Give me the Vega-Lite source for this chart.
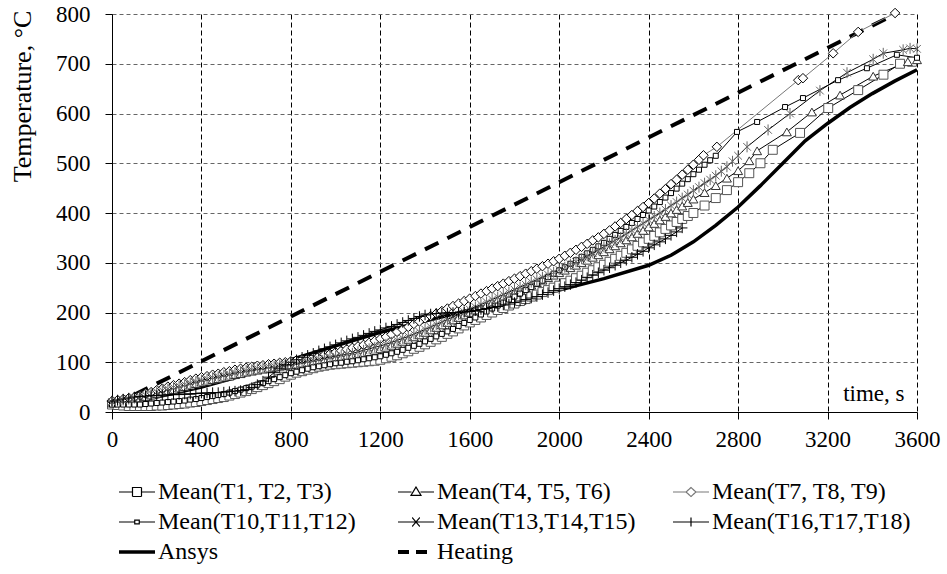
{
  "$schema": "https://vega.github.io/schema/vega-lite/v6.json",
  "autosize": "none",
  "width": 805,
  "height": 398,
  "padding": {"left": 112, "top": 14, "right": 30, "bottom": 162},
  "background": "white",
  "config": {
    "view": {"stroke": null},
    "font": "Liberation Serif, Times New Roman, serif",
    "axis": {"labelFont": "Liberation Serif, Times New Roman, serif", "labelFontSize": 23, "labelColor": "#000", "titleFont": "Liberation Serif, Times New Roman, serif", "titleFontSize": 23, "titleFontWeight": "normal", "titleColor": "#000", "domainColor": "#000", "tickColor": "#000", "tickSize": 7, "gridOpacity": 1, "gridWidth": 1},
    "legend": {"labelFont": "Liberation Serif, Times New Roman, serif", "labelFontSize": 24, "labelColor": "#000"}
  },
  "data": {"values": [
    {"s":"Heating","t":0,"v":12},{"s":"Heating","t":3490,"v":797},
    {"s":"Ansys","t":0,"v":18},{"s":"Ansys","t":200,"v":30},{"s":"Ansys","t":400,"v":50},{"s":"Ansys","t":600,"v":75},{"s":"Ansys","t":800,"v":105},{"s":"Ansys","t":1000,"v":133},{"s":"Ansys","t":1200,"v":160},{"s":"Ansys","t":1400,"v":183},{"s":"Ansys","t":1600,"v":205},{"s":"Ansys","t":1800,"v":225},{"s":"Ansys","t":2000,"v":245},{"s":"Ansys","t":2200,"v":268},{"s":"Ansys","t":2400,"v":295},{"s":"Ansys","t":2500,"v":315},{"s":"Ansys","t":2600,"v":342},{"s":"Ansys","t":2700,"v":375},{"s":"Ansys","t":2800,"v":412},{"s":"Ansys","t":2900,"v":455},{"s":"Ansys","t":3000,"v":500},{"s":"Ansys","t":3100,"v":545},{"s":"Ansys","t":3200,"v":580},{"s":"Ansys","t":3300,"v":612},{"s":"Ansys","t":3400,"v":640},{"s":"Ansys","t":3500,"v":665},{"s":"Ansys","t":3600,"v":688},
    {"s":"A","t":0,"v":15},{"s":"A","t":25,"v":14},{"s":"A","t":50,"v":13},{"s":"A","t":75,"v":12},{"s":"A","t":100,"v":12},{"s":"A","t":125,"v":12},{"s":"A","t":150,"v":12},{"s":"A","t":175,"v":12},{"s":"A","t":200,"v":13},{"s":"A","t":225,"v":13},{"s":"A","t":250,"v":14},{"s":"A","t":275,"v":15},{"s":"A","t":300,"v":16},{"s":"A","t":325,"v":17},{"s":"A","t":350,"v":19},{"s":"A","t":375,"v":20},{"s":"A","t":400,"v":22},{"s":"A","t":425,"v":24},{"s":"A","t":450,"v":26},{"s":"A","t":475,"v":28},{"s":"A","t":500,"v":30},{"s":"A","t":525,"v":33},{"s":"A","t":550,"v":36},{"s":"A","t":575,"v":39},{"s":"A","t":600,"v":42},{"s":"A","t":625,"v":46},{"s":"A","t":650,"v":50},{"s":"A","t":675,"v":54},{"s":"A","t":700,"v":58},{"s":"A","t":725,"v":62},{"s":"A","t":750,"v":66},{"s":"A","t":775,"v":71},{"s":"A","t":800,"v":75},{"s":"A","t":825,"v":79},{"s":"A","t":850,"v":82},{"s":"A","t":875,"v":85},{"s":"A","t":900,"v":88},{"s":"A","t":925,"v":91},{"s":"A","t":950,"v":93},{"s":"A","t":975,"v":95},{"s":"A","t":1000,"v":96},{"s":"A","t":1025,"v":97},{"s":"A","t":1050,"v":98},{"s":"A","t":1075,"v":99},{"s":"A","t":1100,"v":100},{"s":"A","t":1125,"v":101},{"s":"A","t":1150,"v":102},{"s":"A","t":1175,"v":103},{"s":"A","t":1200,"v":105},{"s":"A","t":1225,"v":108},{"s":"A","t":1250,"v":111},{"s":"A","t":1275,"v":114},{"s":"A","t":1300,"v":118},{"s":"A","t":1325,"v":122},{"s":"A","t":1350,"v":127},{"s":"A","t":1375,"v":131},{"s":"A","t":1400,"v":136},{"s":"A","t":1425,"v":141},{"s":"A","t":1450,"v":146},{"s":"A","t":1475,"v":151},{"s":"A","t":1500,"v":157},{"s":"A","t":1525,"v":162},{"s":"A","t":1550,"v":168},{"s":"A","t":1575,"v":174},{"s":"A","t":1600,"v":180},{"s":"A","t":1625,"v":185},{"s":"A","t":1650,"v":190},{"s":"A","t":1675,"v":195},{"s":"A","t":1700,"v":200},{"s":"A","t":1725,"v":205},{"s":"A","t":1750,"v":209},{"s":"A","t":1775,"v":214},{"s":"A","t":1800,"v":218},{"s":"A","t":1825,"v":223},{"s":"A","t":1850,"v":227},{"s":"A","t":1875,"v":232},{"s":"A","t":1900,"v":236},{"s":"A","t":1925,"v":241},{"s":"A","t":1950,"v":245},{"s":"A","t":1975,"v":250},{"s":"A","t":2000,"v":254},{"s":"A","t":2025,"v":259},{"s":"A","t":2050,"v":264},{"s":"A","t":2075,"v":269},{"s":"A","t":2100,"v":274},{"s":"A","t":2125,"v":280},{"s":"A","t":2150,"v":285},{"s":"A","t":2175,"v":291},{"s":"A","t":2200,"v":296},{"s":"A","t":2225,"v":302},{"s":"A","t":2250,"v":308},{"s":"A","t":2275,"v":314},{"s":"A","t":2300,"v":320},{"s":"A","t":2325,"v":327},{"s":"A","t":2350,"v":334},{"s":"A","t":2375,"v":341},{"s":"A","t":2400,"v":348},{"s":"A","t":2425,"v":354},{"s":"A","t":2450,"v":361},{"s":"A","t":2475,"v":368},{"s":"A","t":2500,"v":375},{"s":"A","t":2525,"v":382},{"s":"A","t":2550,"v":388},{"s":"A","t":2575,"v":394},{"s":"A","t":2600,"v":400},{"s":"A","t":2650,"v":415},{"s":"A","t":2700,"v":430},{"s":"A","t":2750,"v":446},{"s":"A","t":2800,"v":462},{"s":"A","t":2850,"v":480},{"s":"A","t":2900,"v":500},{"s":"A","t":2955,"v":527},{"s":"A","t":3077,"v":561},{"s":"A","t":3203,"v":611},{"s":"A","t":3337,"v":647},{"s":"A","t":3450,"v":678},{"s":"A","t":3524,"v":700},{"s":"A","t":3578,"v":704},
    {"s":"B","t":0,"v":18},{"s":"B","t":25,"v":19},{"s":"B","t":50,"v":21},{"s":"B","t":75,"v":23},{"s":"B","t":100,"v":25},{"s":"B","t":125,"v":28},{"s":"B","t":150,"v":31},{"s":"B","t":175,"v":34},{"s":"B","t":200,"v":37},{"s":"B","t":225,"v":40},{"s":"B","t":250,"v":43},{"s":"B","t":275,"v":45},{"s":"B","t":300,"v":48},{"s":"B","t":325,"v":51},{"s":"B","t":350,"v":54},{"s":"B","t":375,"v":57},{"s":"B","t":400,"v":60},{"s":"B","t":425,"v":62},{"s":"B","t":450,"v":65},{"s":"B","t":475,"v":67},{"s":"B","t":500,"v":70},{"s":"B","t":525,"v":72},{"s":"B","t":550,"v":75},{"s":"B","t":575,"v":77},{"s":"B","t":600,"v":80},{"s":"B","t":625,"v":82},{"s":"B","t":650,"v":84},{"s":"B","t":675,"v":86},{"s":"B","t":700,"v":88},{"s":"B","t":725,"v":90},{"s":"B","t":750,"v":92},{"s":"B","t":775,"v":93},{"s":"B","t":800,"v":95},{"s":"B","t":825,"v":96},{"s":"B","t":850,"v":98},{"s":"B","t":875,"v":99},{"s":"B","t":900,"v":101},{"s":"B","t":925,"v":102},{"s":"B","t":950,"v":104},{"s":"B","t":975,"v":106},{"s":"B","t":1000,"v":108},{"s":"B","t":1025,"v":110},{"s":"B","t":1050,"v":112},{"s":"B","t":1075,"v":114},{"s":"B","t":1100,"v":116},{"s":"B","t":1125,"v":118},{"s":"B","t":1150,"v":121},{"s":"B","t":1175,"v":124},{"s":"B","t":1200,"v":127},{"s":"B","t":1225,"v":130},{"s":"B","t":1250,"v":134},{"s":"B","t":1275,"v":138},{"s":"B","t":1300,"v":142},{"s":"B","t":1325,"v":146},{"s":"B","t":1350,"v":151},{"s":"B","t":1375,"v":155},{"s":"B","t":1400,"v":160},{"s":"B","t":1425,"v":165},{"s":"B","t":1450,"v":170},{"s":"B","t":1475,"v":175},{"s":"B","t":1500,"v":180},{"s":"B","t":1525,"v":185},{"s":"B","t":1550,"v":190},{"s":"B","t":1575,"v":195},{"s":"B","t":1600,"v":200},{"s":"B","t":1625,"v":205},{"s":"B","t":1650,"v":210},{"s":"B","t":1675,"v":215},{"s":"B","t":1700,"v":220},{"s":"B","t":1725,"v":225},{"s":"B","t":1750,"v":230},{"s":"B","t":1775,"v":235},{"s":"B","t":1800,"v":240},{"s":"B","t":1825,"v":245},{"s":"B","t":1850,"v":250},{"s":"B","t":1875,"v":255},{"s":"B","t":1900,"v":260},{"s":"B","t":1925,"v":265},{"s":"B","t":1950,"v":270},{"s":"B","t":1975,"v":275},{"s":"B","t":2000,"v":280},{"s":"B","t":2025,"v":285},{"s":"B","t":2050,"v":290},{"s":"B","t":2075,"v":295},{"s":"B","t":2100,"v":300},{"s":"B","t":2125,"v":305},{"s":"B","t":2150,"v":311},{"s":"B","t":2175,"v":316},{"s":"B","t":2200,"v":322},{"s":"B","t":2225,"v":328},{"s":"B","t":2250,"v":334},{"s":"B","t":2275,"v":340},{"s":"B","t":2300,"v":346},{"s":"B","t":2325,"v":352},{"s":"B","t":2350,"v":359},{"s":"B","t":2375,"v":365},{"s":"B","t":2400,"v":372},{"s":"B","t":2425,"v":379},{"s":"B","t":2450,"v":386},{"s":"B","t":2475,"v":393},{"s":"B","t":2500,"v":400},{"s":"B","t":2525,"v":407},{"s":"B","t":2550,"v":414},{"s":"B","t":2575,"v":421},{"s":"B","t":2600,"v":428},{"s":"B","t":2650,"v":441},{"s":"B","t":2700,"v":455},{"s":"B","t":2750,"v":470},{"s":"B","t":2800,"v":485},{"s":"B","t":2850,"v":505},{"s":"B","t":2885,"v":525},{"s":"B","t":3018,"v":563},{"s":"B","t":3130,"v":603},{"s":"B","t":3256,"v":637},{"s":"B","t":3404,"v":675},{"s":"B","t":3559,"v":704},{"s":"B","t":3600,"v":708},
    {"s":"C","t":0,"v":22},{"s":"C","t":25,"v":24},{"s":"C","t":50,"v":26},{"s":"C","t":75,"v":28},{"s":"C","t":100,"v":30},{"s":"C","t":125,"v":33},{"s":"C","t":150,"v":37},{"s":"C","t":175,"v":40},{"s":"C","t":200,"v":44},{"s":"C","t":225,"v":47},{"s":"C","t":250,"v":51},{"s":"C","t":275,"v":54},{"s":"C","t":300,"v":57},{"s":"C","t":325,"v":60},{"s":"C","t":350,"v":64},{"s":"C","t":375,"v":67},{"s":"C","t":400,"v":70},{"s":"C","t":425,"v":72},{"s":"C","t":450,"v":75},{"s":"C","t":475,"v":77},{"s":"C","t":500,"v":80},{"s":"C","t":525,"v":82},{"s":"C","t":550,"v":85},{"s":"C","t":575,"v":87},{"s":"C","t":600,"v":89},{"s":"C","t":625,"v":91},{"s":"C","t":650,"v":93},{"s":"C","t":675,"v":94},{"s":"C","t":700,"v":96},{"s":"C","t":725,"v":97},{"s":"C","t":750,"v":99},{"s":"C","t":775,"v":100},{"s":"C","t":800,"v":102},{"s":"C","t":825,"v":104},{"s":"C","t":850,"v":106},{"s":"C","t":875,"v":108},{"s":"C","t":900,"v":110},{"s":"C","t":925,"v":112},{"s":"C","t":950,"v":115},{"s":"C","t":975,"v":117},{"s":"C","t":1000,"v":120},{"s":"C","t":1025,"v":123},{"s":"C","t":1050,"v":126},{"s":"C","t":1075,"v":129},{"s":"C","t":1100,"v":132},{"s":"C","t":1125,"v":135},{"s":"C","t":1150,"v":139},{"s":"C","t":1175,"v":143},{"s":"C","t":1200,"v":147},{"s":"C","t":1225,"v":151},{"s":"C","t":1250,"v":156},{"s":"C","t":1275,"v":161},{"s":"C","t":1300,"v":166},{"s":"C","t":1325,"v":171},{"s":"C","t":1350,"v":177},{"s":"C","t":1375,"v":182},{"s":"C","t":1400,"v":188},{"s":"C","t":1425,"v":193},{"s":"C","t":1450,"v":198},{"s":"C","t":1475,"v":203},{"s":"C","t":1500,"v":208},{"s":"C","t":1525,"v":213},{"s":"C","t":1550,"v":218},{"s":"C","t":1575,"v":223},{"s":"C","t":1600,"v":228},{"s":"C","t":1625,"v":233},{"s":"C","t":1650,"v":238},{"s":"C","t":1675,"v":243},{"s":"C","t":1700,"v":248},{"s":"C","t":1725,"v":253},{"s":"C","t":1750,"v":258},{"s":"C","t":1775,"v":263},{"s":"C","t":1800,"v":268},{"s":"C","t":1825,"v":273},{"s":"C","t":1850,"v":278},{"s":"C","t":1875,"v":283},{"s":"C","t":1900,"v":288},{"s":"C","t":1925,"v":293},{"s":"C","t":1950,"v":298},{"s":"C","t":1975,"v":303},{"s":"C","t":2000,"v":308},{"s":"C","t":2025,"v":314},{"s":"C","t":2050,"v":320},{"s":"C","t":2075,"v":326},{"s":"C","t":2100,"v":332},{"s":"C","t":2125,"v":338},{"s":"C","t":2150,"v":345},{"s":"C","t":2175,"v":351},{"s":"C","t":2200,"v":358},{"s":"C","t":2225,"v":365},{"s":"C","t":2250,"v":373},{"s":"C","t":2275,"v":380},{"s":"C","t":2300,"v":388},{"s":"C","t":2325,"v":396},{"s":"C","t":2350,"v":404},{"s":"C","t":2375,"v":412},{"s":"C","t":2400,"v":420},{"s":"C","t":2425,"v":429},{"s":"C","t":2450,"v":439},{"s":"C","t":2475,"v":448},{"s":"C","t":2500,"v":458},{"s":"C","t":2525,"v":467},{"s":"C","t":2550,"v":477},{"s":"C","t":2575,"v":487},{"s":"C","t":2600,"v":497},{"s":"C","t":2625,"v":507},{"s":"C","t":2645,"v":516},{"s":"C","t":2705,"v":533},{"s":"C","t":3069,"v":667},{"s":"C","t":3090,"v":671},{"s":"C","t":3225,"v":721},{"s":"C","t":3337,"v":764},{"s":"C","t":3502,"v":802},
    {"s":"D","t":0,"v":15},{"s":"D","t":25,"v":15},{"s":"D","t":50,"v":15},{"s":"D","t":75,"v":15},{"s":"D","t":100,"v":15},{"s":"D","t":125,"v":15},{"s":"D","t":150,"v":16},{"s":"D","t":175,"v":17},{"s":"D","t":200,"v":18},{"s":"D","t":225,"v":19},{"s":"D","t":250,"v":20},{"s":"D","t":275,"v":21},{"s":"D","t":300,"v":22},{"s":"D","t":325,"v":23},{"s":"D","t":350,"v":25},{"s":"D","t":375,"v":26},{"s":"D","t":400,"v":28},{"s":"D","t":425,"v":30},{"s":"D","t":450,"v":32},{"s":"D","t":475,"v":34},{"s":"D","t":500,"v":36},{"s":"D","t":525,"v":39},{"s":"D","t":550,"v":42},{"s":"D","t":575,"v":45},{"s":"D","t":600,"v":48},{"s":"D","t":625,"v":51},{"s":"D","t":650,"v":55},{"s":"D","t":675,"v":58},{"s":"D","t":700,"v":62},{"s":"D","t":725,"v":66},{"s":"D","t":750,"v":70},{"s":"D","t":775,"v":74},{"s":"D","t":800,"v":78},{"s":"D","t":825,"v":81},{"s":"D","t":850,"v":84},{"s":"D","t":875,"v":87},{"s":"D","t":900,"v":90},{"s":"D","t":925,"v":92},{"s":"D","t":950,"v":94},{"s":"D","t":975,"v":96},{"s":"D","t":1000,"v":98},{"s":"D","t":1025,"v":99},{"s":"D","t":1050,"v":101},{"s":"D","t":1075,"v":102},{"s":"D","t":1100,"v":104},{"s":"D","t":1125,"v":106},{"s":"D","t":1150,"v":108},{"s":"D","t":1175,"v":110},{"s":"D","t":1200,"v":112},{"s":"D","t":1225,"v":115},{"s":"D","t":1250,"v":118},{"s":"D","t":1275,"v":121},{"s":"D","t":1300,"v":125},{"s":"D","t":1325,"v":129},{"s":"D","t":1350,"v":133},{"s":"D","t":1375,"v":137},{"s":"D","t":1400,"v":142},{"s":"D","t":1425,"v":147},{"s":"D","t":1450,"v":152},{"s":"D","t":1475,"v":157},{"s":"D","t":1500,"v":162},{"s":"D","t":1525,"v":167},{"s":"D","t":1550,"v":173},{"s":"D","t":1575,"v":179},{"s":"D","t":1600,"v":185},{"s":"D","t":1625,"v":190},{"s":"D","t":1650,"v":196},{"s":"D","t":1675,"v":202},{"s":"D","t":1700,"v":208},{"s":"D","t":1725,"v":214},{"s":"D","t":1750,"v":220},{"s":"D","t":1775,"v":226},{"s":"D","t":1800,"v":232},{"s":"D","t":1825,"v":238},{"s":"D","t":1850,"v":245},{"s":"D","t":1875,"v":251},{"s":"D","t":1900,"v":258},{"s":"D","t":1925,"v":264},{"s":"D","t":1950,"v":271},{"s":"D","t":1975,"v":278},{"s":"D","t":2000,"v":285},{"s":"D","t":2025,"v":291},{"s":"D","t":2050,"v":298},{"s":"D","t":2075,"v":305},{"s":"D","t":2100,"v":312},{"s":"D","t":2125,"v":319},{"s":"D","t":2150,"v":326},{"s":"D","t":2175,"v":333},{"s":"D","t":2200,"v":340},{"s":"D","t":2225,"v":348},{"s":"D","t":2250,"v":356},{"s":"D","t":2275,"v":364},{"s":"D","t":2300,"v":372},{"s":"D","t":2325,"v":380},{"s":"D","t":2350,"v":388},{"s":"D","t":2375,"v":396},{"s":"D","t":2400,"v":405},{"s":"D","t":2425,"v":413},{"s":"D","t":2450,"v":422},{"s":"D","t":2475,"v":431},{"s":"D","t":2500,"v":440},{"s":"D","t":2525,"v":449},{"s":"D","t":2550,"v":459},{"s":"D","t":2575,"v":468},{"s":"D","t":2600,"v":478},{"s":"D","t":2625,"v":487},{"s":"D","t":2650,"v":497},{"s":"D","t":2675,"v":506},{"s":"D","t":2700,"v":515},{"s":"D","t":2795,"v":563},{"s":"D","t":2885,"v":583},{"s":"D","t":3010,"v":613},{"s":"D","t":3090,"v":631},{"s":"D","t":3247,"v":667},{"s":"D","t":3376,"v":691},{"s":"D","t":3510,"v":718},{"s":"D","t":3600,"v":712},
    {"s":"E","t":0,"v":20},{"s":"E","t":25,"v":22},{"s":"E","t":50,"v":24},{"s":"E","t":75,"v":26},{"s":"E","t":100,"v":28},{"s":"E","t":125,"v":31},{"s":"E","t":150,"v":34},{"s":"E","t":175,"v":37},{"s":"E","t":200,"v":40},{"s":"E","t":225,"v":43},{"s":"E","t":250,"v":46},{"s":"E","t":275,"v":49},{"s":"E","t":300,"v":52},{"s":"E","t":325,"v":55},{"s":"E","t":350,"v":58},{"s":"E","t":375,"v":61},{"s":"E","t":400,"v":64},{"s":"E","t":425,"v":66},{"s":"E","t":450,"v":69},{"s":"E","t":475,"v":71},{"s":"E","t":500,"v":74},{"s":"E","t":525,"v":76},{"s":"E","t":550,"v":79},{"s":"E","t":575,"v":81},{"s":"E","t":600,"v":83},{"s":"E","t":625,"v":85},{"s":"E","t":650,"v":87},{"s":"E","t":675,"v":89},{"s":"E","t":700,"v":91},{"s":"E","t":725,"v":92},{"s":"E","t":750,"v":94},{"s":"E","t":775,"v":95},{"s":"E","t":800,"v":97},{"s":"E","t":825,"v":98},{"s":"E","t":850,"v":100},{"s":"E","t":875,"v":102},{"s":"E","t":900,"v":104},{"s":"E","t":925,"v":106},{"s":"E","t":950,"v":108},{"s":"E","t":975,"v":110},{"s":"E","t":1000,"v":112},{"s":"E","t":1025,"v":114},{"s":"E","t":1050,"v":116},{"s":"E","t":1075,"v":118},{"s":"E","t":1100,"v":121},{"s":"E","t":1125,"v":124},{"s":"E","t":1150,"v":127},{"s":"E","t":1175,"v":130},{"s":"E","t":1200,"v":133},{"s":"E","t":1225,"v":136},{"s":"E","t":1250,"v":140},{"s":"E","t":1275,"v":144},{"s":"E","t":1300,"v":148},{"s":"E","t":1325,"v":152},{"s":"E","t":1350,"v":157},{"s":"E","t":1375,"v":161},{"s":"E","t":1400,"v":166},{"s":"E","t":1425,"v":171},{"s":"E","t":1450,"v":176},{"s":"E","t":1475,"v":181},{"s":"E","t":1500,"v":186},{"s":"E","t":1525,"v":191},{"s":"E","t":1550,"v":196},{"s":"E","t":1575,"v":201},{"s":"E","t":1600,"v":206},{"s":"E","t":1625,"v":211},{"s":"E","t":1650,"v":216},{"s":"E","t":1675,"v":221},{"s":"E","t":1700,"v":226},{"s":"E","t":1725,"v":231},{"s":"E","t":1750,"v":236},{"s":"E","t":1775,"v":241},{"s":"E","t":1800,"v":246},{"s":"E","t":1825,"v":251},{"s":"E","t":1850,"v":256},{"s":"E","t":1875,"v":261},{"s":"E","t":1900,"v":266},{"s":"E","t":1925,"v":271},{"s":"E","t":1950,"v":276},{"s":"E","t":1975,"v":281},{"s":"E","t":2000,"v":286},{"s":"E","t":2025,"v":291},{"s":"E","t":2050,"v":297},{"s":"E","t":2075,"v":302},{"s":"E","t":2100,"v":308},{"s":"E","t":2125,"v":314},{"s":"E","t":2150,"v":320},{"s":"E","t":2175,"v":326},{"s":"E","t":2200,"v":332},{"s":"E","t":2225,"v":338},{"s":"E","t":2250,"v":345},{"s":"E","t":2275,"v":351},{"s":"E","t":2300,"v":358},{"s":"E","t":2325,"v":365},{"s":"E","t":2350,"v":372},{"s":"E","t":2375,"v":379},{"s":"E","t":2400,"v":386},{"s":"E","t":2425,"v":393},{"s":"E","t":2450,"v":400},{"s":"E","t":2475,"v":407},{"s":"E","t":2500,"v":415},{"s":"E","t":2525,"v":422},{"s":"E","t":2550,"v":430},{"s":"E","t":2575,"v":437},{"s":"E","t":2600,"v":445},{"s":"E","t":2625,"v":452},{"s":"E","t":2650,"v":460},{"s":"E","t":2675,"v":467},{"s":"E","t":2700,"v":475},{"s":"E","t":2725,"v":484},{"s":"E","t":2750,"v":493},{"s":"E","t":2775,"v":504},{"s":"E","t":2800,"v":515},{"s":"E","t":2840,"v":533},{"s":"E","t":2934,"v":567},{"s":"E","t":3032,"v":600},{"s":"E","t":3166,"v":646},{"s":"E","t":3287,"v":682},{"s":"E","t":3404,"v":709},{"s":"E","t":3449,"v":721},{"s":"E","t":3538,"v":728},{"s":"E","t":3569,"v":731},{"s":"E","t":3600,"v":730},
    {"s":"F","t":0,"v":22},{"s":"F","t":25,"v":24},{"s":"F","t":50,"v":26},{"s":"F","t":75,"v":28},{"s":"F","t":100,"v":30},{"s":"F","t":125,"v":31},{"s":"F","t":150,"v":32},{"s":"F","t":175,"v":33},{"s":"F","t":200,"v":33},{"s":"F","t":225,"v":34},{"s":"F","t":250,"v":34},{"s":"F","t":275,"v":35},{"s":"F","t":300,"v":35},{"s":"F","t":325,"v":36},{"s":"F","t":350,"v":36},{"s":"F","t":375,"v":37},{"s":"F","t":400,"v":38},{"s":"F","t":425,"v":38},{"s":"F","t":450,"v":39},{"s":"F","t":475,"v":39},{"s":"F","t":500,"v":40},{"s":"F","t":525,"v":41},{"s":"F","t":550,"v":42},{"s":"F","t":575,"v":43},{"s":"F","t":600,"v":45},{"s":"F","t":625,"v":49},{"s":"F","t":650,"v":55},{"s":"F","t":675,"v":62},{"s":"F","t":700,"v":70},{"s":"F","t":725,"v":79},{"s":"F","t":750,"v":88},{"s":"F","t":775,"v":95},{"s":"F","t":800,"v":100},{"s":"F","t":825,"v":105},{"s":"F","t":850,"v":110},{"s":"F","t":875,"v":114},{"s":"F","t":900,"v":118},{"s":"F","t":925,"v":123},{"s":"F","t":950,"v":127},{"s":"F","t":975,"v":131},{"s":"F","t":1000,"v":135},{"s":"F","t":1025,"v":139},{"s":"F","t":1050,"v":143},{"s":"F","t":1075,"v":147},{"s":"F","t":1100,"v":150},{"s":"F","t":1125,"v":154},{"s":"F","t":1150,"v":158},{"s":"F","t":1175,"v":162},{"s":"F","t":1200,"v":165},{"s":"F","t":1225,"v":169},{"s":"F","t":1250,"v":172},{"s":"F","t":1275,"v":176},{"s":"F","t":1300,"v":180},{"s":"F","t":1325,"v":184},{"s":"F","t":1350,"v":188},{"s":"F","t":1375,"v":192},{"s":"F","t":1400,"v":195},{"s":"F","t":1425,"v":197},{"s":"F","t":1450,"v":198},{"s":"F","t":1475,"v":199},{"s":"F","t":1500,"v":199},{"s":"F","t":1525,"v":200},{"s":"F","t":1550,"v":200},{"s":"F","t":1575,"v":201},{"s":"F","t":1600,"v":202},{"s":"F","t":1625,"v":204},{"s":"F","t":1650,"v":206},{"s":"F","t":1675,"v":208},{"s":"F","t":1700,"v":210},{"s":"F","t":1725,"v":212},{"s":"F","t":1750,"v":215},{"s":"F","t":1775,"v":217},{"s":"F","t":1800,"v":220},{"s":"F","t":1825,"v":223},{"s":"F","t":1850,"v":226},{"s":"F","t":1875,"v":229},{"s":"F","t":1900,"v":232},{"s":"F","t":1925,"v":236},{"s":"F","t":1950,"v":240},{"s":"F","t":1975,"v":244},{"s":"F","t":2000,"v":248},{"s":"F","t":2025,"v":252},{"s":"F","t":2050,"v":256},{"s":"F","t":2075,"v":260},{"s":"F","t":2100,"v":265},{"s":"F","t":2125,"v":270},{"s":"F","t":2150,"v":275},{"s":"F","t":2175,"v":280},{"s":"F","t":2200,"v":285},{"s":"F","t":2225,"v":290},{"s":"F","t":2250,"v":295},{"s":"F","t":2275,"v":300},{"s":"F","t":2300,"v":305},{"s":"F","t":2325,"v":311},{"s":"F","t":2350,"v":317},{"s":"F","t":2375,"v":323},{"s":"F","t":2400,"v":330},{"s":"F","t":2425,"v":336},{"s":"F","t":2450,"v":342},{"s":"F","t":2475,"v":348},{"s":"F","t":2500,"v":355},{"s":"F","t":2525,"v":362},{"s":"F","t":2550,"v":370}
  ]},
  "encoding": {
    "x": {"field": "t", "type": "quantitative", "scale": {"domain": [0, 3600], "nice": false},
      "axis": {"values": [0,400,800,1200,1600,2000,2400,2800,3200,3600], "format": "d", "title": "time, s", "titleX": 792, "titleY": -12, "titleAlign": "right", "titleBaseline": "alphabetic", "titleAngle": 0, "labelPadding": 9, "labelFlush": false, "labelOverlap": false, "gridColor": "#000", "gridDash": [5, 3]}},
    "y": {"field": "v", "type": "quantitative", "scale": {"domain": [0, 800], "nice": false},
      "axis": {"values": [0,100,200,300,400,500,600,700,800], "format": "d", "title": "Temperature, °C", "titleFontSize": 26, "titleX": -90, "titleY": 82, "titleAngle": -90, "titleAlign": "center", "titleBaseline": "middle", "labelPadding": 15, "gridColor": "#666", "gridDash": [4, 3]}}
  },
  "layer": [
    {
      "transform": [{"filter": "datum.s === 'Heating'"}],
      "mark": {"type": "line", "strokeWidth": 4, "strokeDash": [15, 10]},
      "encoding": {"color": {"field": "s", "type": "nominal",
        "scale": {"domain": ["A","B","C","D","E","F","Ansys","Heating"], "range": ["#000","#000","#777","#000","#000","#000","#000","#000"]},
        "legend": {"orient": "none", "legendX": 13, "legendY": 466, "columns": 3, "direction": "horizontal", "title": null, "padding": 0,
          "symbolSize": 900, "labelOffset": 9, "columnPadding": 34, "rowPadding": 6, "labelLimit": 400,
          "labelExpr": "datum.value === 'A' ? 'Mean(T1, T2, T3)' : datum.value === 'B' ? 'Mean(T4, T5, T6)' : datum.value === 'C' ? 'Mean(T7, T8, T9)' : datum.value === 'D' ? 'Mean(T10,T11,T12)' : datum.value === 'E' ? 'Mean(T13,T14,T15)' : datum.value === 'F' ? 'Mean(T16,T17,T18)' : datum.value",
          "encode": {"symbols": {"update": {
            "shape": {"signal": "datum.value === 'A' ? 'M-1.2,0H-0.3M0.3,0H1.2M-0.3,-0.3H0.3V0.3H-0.3Z' : datum.value === 'B' ? 'M-1.2,0H-0.3M0.3,0H1.2M0,-0.33L0.33,0.22H-0.33Z' : datum.value === 'C' ? 'M-1.2,0H-0.33M0.33,0H1.2M0,-0.3L0.33,0L0,0.3L-0.33,0Z' : datum.value === 'D' ? 'M-1.2,0H-0.15M0.15,0H1.2M-0.15,-0.12H0.15V0.12H-0.15Z' : datum.value === 'E' ? 'M-1.2,0H1.2M-0.25,-0.3L0.25,0.3M-0.25,0.3L0.25,-0.3' : datum.value === 'F' ? 'M-1.2,0H1.2M0,-0.3V0.3' : 'M-1.2,0H1.2'"},
            "fill": {"value": "white"},
            "fillOpacity": {"value": 1},
            "stroke": {"signal": "datum.value === 'C' ? '#555' : '#000'"},
            "strokeWidth": {"signal": "datum.value === 'Ansys' ? 3.5 : datum.value === 'Heating' ? 4 : 1.2"},
            "strokeDash": {"signal": "datum.value === 'Heating' ? [11, 7] : [1, 0]"},
            "opacity": {"value": 1}
          }}}
        }}}
    },
    {
      "transform": [{"filter": "datum.s === 'Ansys'"}],
      "mark": {"type": "line", "strokeWidth": 3.5},
      "encoding": {"color": {"field": "s", "type": "nominal"}}
    },
    {
      "transform": [{"filter": "datum.s !== 'Ansys' && datum.s !== 'Heating'"}],
      "mark": {"type": "line", "strokeWidth": 1},
      "encoding": {"color": {"field": "s", "type": "nominal"}, "detail": {"field": "s"}}
    },
    {
      "transform": [{"filter": "datum.s !== 'Ansys' && datum.s !== 'Heating'"}],
      "mark": {"type": "point", "filled": false, "fill": "white", "fillOpacity": 1, "strokeWidth": 1, "opacity": 1},
      "encoding": {
        "shape": {"field": "s", "type": "nominal", "legend": null, "scale": {"domain": ["A","B","C","D","E","F"], "range": ["square", "triangle-up", "diamond", "square", "M-0.7,-0.7L0.7,0.7M-0.7,0.7L0.7,-0.7M0,-1V1", "M-1,0H1M0,-1V1"]}},
        "stroke": {"field": "s", "type": "nominal", "legend": null, "scale": {"domain": ["A","B","C","D","E","F"], "range": ["#555", "#333", "#000", "#000", "#666", "#000"]}},
        "size": {"field": "s", "type": "nominal", "legend": null, "scale": {"type": "ordinal", "domain": ["A","B","C","D","E","F"], "range": [80, 80, 90, 25, 120, 110]}}
      }
    }
  ]
}
